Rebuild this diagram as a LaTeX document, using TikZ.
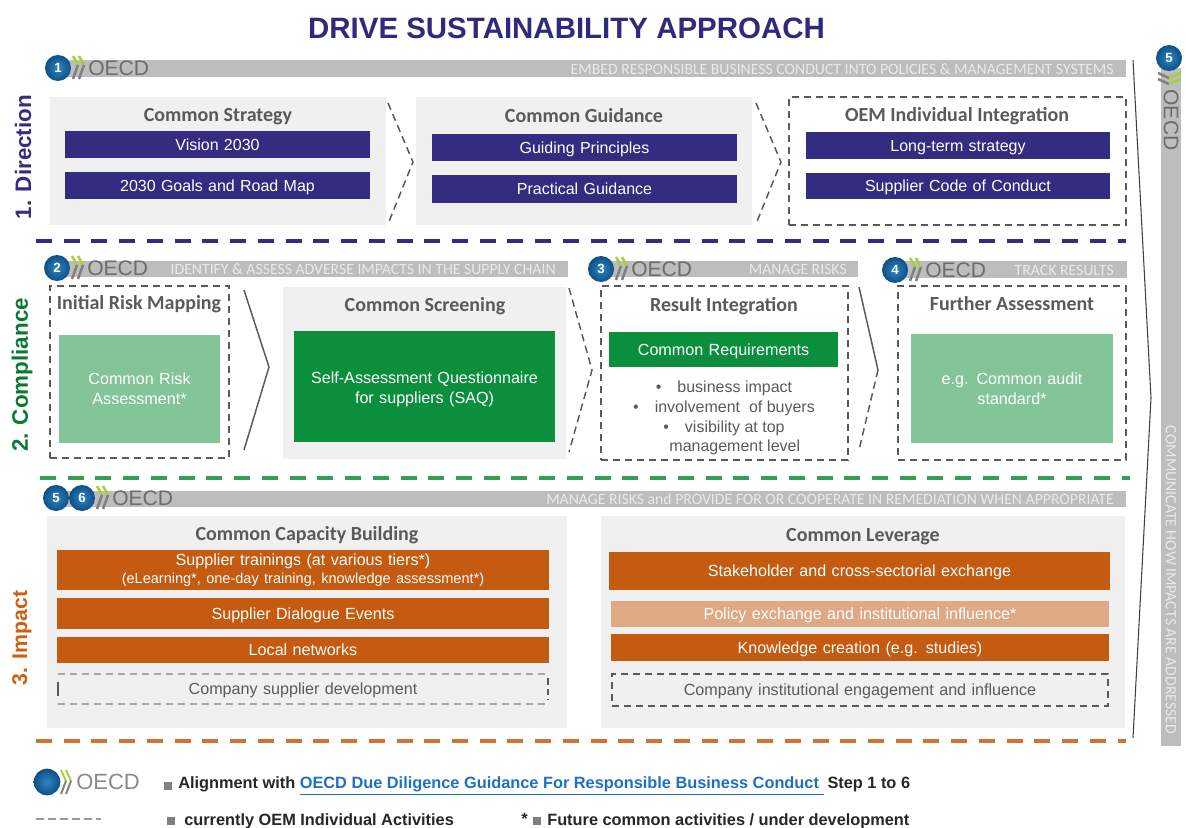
\documentclass[tikz,border=0pt]{standalone}
\usepackage{fontspec}
\setmainfont{Liberation Sans}
\newfontfamily\headfont{Carlito}
\definecolor{navy}{HTML}{332C80}
\definecolor{titleblue}{HTML}{2F2A7E}
\definecolor{dgreen}{HTML}{0B8F3C}
\definecolor{lgreen}{HTML}{83C598}
\definecolor{orng}{HTML}{C55A11}
\definecolor{lorng}{HTML}{DFA985}
\definecolor{panel}{HTML}{F0F0F0}
\definecolor{barg}{HTML}{BDBDBD}
\definecolor{ltxt}{HTML}{EAEAEA}
\definecolor{dgray}{HTML}{595959}
\definecolor{txtg}{HTML}{5A5A5A}
\definecolor{oecdg}{HTML}{6C6C6C}
\definecolor{linkb}{HTML}{1F6FC4}
\definecolor{chev}{HTML}{A9CF3A}
\definecolor{globein}{HTML}{2E86C1}
\definecolor{globeout}{HTML}{0F4F86}
\tikzset{
  panelbox/.style={fill=panel,draw=none},
  barbox/.style={fill=barg,draw=none},
  oneline/.style={text height=9.6pt,text depth=1pt},
  navybox/.style={fill=navy,text=white,font=\fontsize{12pt}{13pt}\selectfont,draw=none,oneline},
  greenbox/.style={fill=dgreen,text=white,font=\fontsize{12.1pt}{15pt}\selectfont,draw=none},
  greenone/.style={greenbox,oneline},
  lgreenbox/.style={fill=lgreen,text=white,font=\fontsize{12.1pt}{15pt}\selectfont,draw=none},
  orangebox/.style={fill=orng,text=white,font=\fontsize{12.1pt}{13pt}\selectfont,draw=none,oneline},
  orangetwo/.style={fill=orng,text=white,font=\fontsize{12.1pt}{14pt}\selectfont,draw=none},
  lorangebox/.style={fill=lorng,text=white,font=\fontsize{12.1pt}{13pt}\selectfont,draw=none,oneline},
  dashbox/.style={draw=dgray,dash pattern=on 5.5pt off 3.5pt,line width=1pt},
  plainbox/.style={draw=none,text=txtg,font=\fontsize{12.1pt}{13pt}\selectfont,oneline},
  lightdash/.style={draw=black!35,line width=1.3pt,dash pattern=on 5.5pt off 3.5pt},
  sidedash/.style={draw=dgray,line width=1pt},
  heading/.style={font=\headfont\bfseries\fontsize{15pt}{16pt}\selectfont,text=txtg,text height=12pt,text depth=2pt},
  bartext/.style={font=\headfont\fontsize{11.8pt}{13pt}\selectfont,text=ltxt,anchor=east,inner sep=0pt},
  chevline/.style={draw=dgray,line width=1.1pt,dash pattern=on 5.5pt off 3.5pt},
  chevsolid/.style={draw=dgray,line width=1.1pt},
  rule/.style={line width=2.4pt,dash pattern=on 12pt off 8.8pt},
  rowlabel/.style={font=\bfseries\fontsize{16.8pt}{20pt}\selectfont,rotate=90},
  globe/.style={circle,minimum size=19.5pt,inner sep=0pt,inner color=globein,outer color=globeout,text=white,font=\bfseries\fontsize{10pt}{10pt}\selectfont},
  oecdtext/.style={text=oecdg,font=\fontsize{15.8pt}{18pt}\selectfont,inner sep=0pt},
  legend/.style={font=\bfseries\fontsize{12.25pt}{14pt}\selectfont,text=black!85,anchor=west,inner sep=0pt},
}
\newcommand{\rbox}[7][]{%
  \pgfmathsetmacro{\rw}{(#5-#3)*0.75}\pgfmathsetmacro{\rh}{(#6-#4)*0.75}%
  \node[#7,minimum width=\rw pt,minimum height=\rh pt,inner sep=0pt,outer sep=0pt,align=center,text width=\rw pt-4pt] (#2) at ({(#3+#5)/2},{(#4+#6)/2}) {#1};}
\newcommand{\oecdlogo}[4]{% name, x, y, number
  \draw[chev,line width=1.9pt] (#2+15,#3-12) -- (#2+20,#3-3) (#2+21,#3-12) -- (#2+26,#3-3);
  \draw[gray,line width=1.9pt] (#2+20,#3-3) -- (#2+15,#3+11) (#2+26,#3-3) -- (#2+21,#3+11);
  \node[globe] (#1g) at (#2,#3) {#4};
  \node[oecdtext,anchor=west] (#1t) at (#2+30,#3) {OECD};}
\newcommand{\sketchbox}[1]{% light top and bottom, short dark sides
  \draw[lightdash] (#1.north west) -- (#1.north east);
  \draw[lightdash] (#1.south west) -- (#1.south east);
  \draw[sidedash] ([yshift=-6pt]#1.north west) -- ([yshift=6pt]#1.south west);
  \draw[sidedash,dash pattern=on 5pt off 3pt] ([yshift=-3pt]#1.north east) -- ([yshift=3pt]#1.south east);}
\begin{document}
\begin{tikzpicture}[x=0.75pt,y=-0.75pt]
\useasboundingbox (0,0) rectangle (1186,828);
\node[font=\bfseries\fontsize{22.1pt}{24pt}\selectfont,text=titleblue] (title) at (566.5,28) {DRIVE SUSTAINABILITY APPROACH};

% grey bars
\rbox{bar1}{50}{60}{1126}{77}{barbox}
\rbox{bar2a}{50}{261}{568}{277}{barbox}
\rbox{bar2b}{600}{261}{858}{277}{barbox}
\rbox{bar2c}{890}{261}{1127}{278}{barbox}
\rbox{bar3}{50}{491}{1126}{507}{barbox}
\rbox{barv}{1161}{68}{1181}{746}{barbox}
\node[bartext] (t1) at (1114,69) {EMBED RESPONSIBLE BUSINESS CONDUCT INTO POLICIES \& MANAGEMENT SYSTEMS};
\node[bartext] (t2a) at (556,269) {IDENTIFY \& ASSESS ADVERSE IMPACTS IN THE SUPPLY CHAIN};
\node[bartext] (t2b) at (847,269) {MANAGE RISKS};
\node[bartext] (t2c) at (1114,270) {TRACK RESULTS};
\node[bartext] (t3) at (1114,499) {MANAGE RISKS and PROVIDE FOR OR COOPERATE IN REMEDIATION WHEN APPROPRIATE};
\node[font=\headfont\fontsize{11.8pt}{13pt}\selectfont,text=ltxt,rotate=-90,inner sep=0pt] (tv) at (1171,580) {COMMUNICATE HOW IMPACTS ARE ADDRESSED};

% logos
\oecdlogo{l1}{58}{68}{1}
\oecdlogo{l2}{57}{268}{2}
\oecdlogo{l3}{601}{269}{3}
\oecdlogo{l4}{895}{270}{4}
\node[globe] (l6g) at (56,498) {5};
\oecdlogo{l5}{82}{498}{6}
% vertical logo
\draw[gray,line width=1.9pt] (1158,73) -- (1169,78) (1158,79) -- (1169,84);
\draw[chev,line width=1.9pt] (1169,78) -- (1181,73) (1169,84) -- (1181,79);
\node[globe] (l7g) at (1169,58) {5};
\node[oecdtext,rotate=-90] (l7t) at (1171,120) {OECD};

% Row labels
\node[rowlabel,text=navy] (r1) at (23,157) {1. Direction};
\node[rowlabel,text=dgreen!85!black] (r2) at (22,375) {2. Compliance};
\node[rowlabel,text=orng!85!orange,font=\bfseries\fontsize{16pt}{20pt}\selectfont] (r3) at (22,638) {3. Impact};

% Row 1
\rbox{p1}{50}{97}{386}{225}{panelbox}
\node[heading] (h1) at (218,115) {Common Strategy};
\rbox[Vision 2030]{n1}{65}{131}{370}{158}{navybox}
\rbox[2030 Goals and Road Map]{n2}{65}{172}{370}{199}{navybox}
\draw[chevline] (388,103) -- (413,162) -- (388,224);
\rbox{p2}{416}{97}{752}{225}{panelbox}
\node[heading] (h2) at (584,116) {Common Guidance};
\rbox[Guiding Principles]{n3}{432}{134}{737}{161}{navybox}
\rbox[Practical Guidance]{n4}{432}{175}{737}{203}{navybox}
\draw[chevline] (756,103) -- (781,162) -- (756,224);
\rbox{p3}{789}{97}{1126}{225}{dashbox}
\node[heading] (h3) at (957,115) {OEM Individual Integration};
\rbox[Long-term strategy]{n5}{806}{132}{1110}{159}{navybox}
\rbox[Supplier Code of Conduct]{n6}{806}{173}{1110}{199}{navybox}
\draw[rule,navy] (36,241) -- (1126,241);

% Row 2
\rbox{p4}{50}{286}{229}{458}{dashbox}
\node[heading] (h4) at (139,303) {Initial Risk Mapping};
\rbox[Common Risk\\Assessment*]{g1}{59}{335}{220}{443}{lgreenbox}
\draw[chevsolid] (244,290) -- (269,367) -- (244,450);
\rbox{p5}{283}{287}{566}{459}{panelbox}
\node[heading] (h5) at (425,305) {Common Screening};
\rbox[\rule{0pt}{13pt}Self-Assessment Questionnaire\\for suppliers (SAQ)]{g2}{294}{331}{555}{442}{greenbox}
\draw[chevline] (569,288) -- (592,370) -- (569,452);
\rbox{p6}{601}{286}{848}{460}{dashbox}
\node[heading] (h6) at (724,305) {Result Integration};
\rbox[Common Requirements]{g3}{609}{332}{838}{367}{greenone}
\node[align=center,text=txtg,font=\fontsize{12pt}{14.9pt}\selectfont,inner sep=0pt] (g3t) at (724,418) {\textbullet\hspace{1em}business impact\\\textbullet\hspace{1em}involvement\ \ of buyers\\\textbullet\hspace{1em}visibility at top\\\phantom{\textbullet\hspace{1em}}management level};
\draw[chevsolid] (859,287) -- (878,370);
\draw[chevline] (878,370) -- (859,450);
\rbox{p7}{898}{286}{1126}{460}{dashbox}
\node[heading] (h7) at (1012,304) {Further Assessment};
\rbox[e.g. Common audit\\standard*]{g4}{911}{334}{1113}{443}{lgreenbox}
\draw[rule,dgreen!85!white] (40,478) -- (1130,478);

% Row 3
\rbox{p8}{47}{516}{567}{728}{panelbox}
\node[heading] (h8) at (307,534) {Common Capacity Building};
\rbox[{Supplier trainings (at various tiers*)\\{\fontsize{10.9pt}{14pt}\selectfont(eLearning*, one-day training, knowledge assessment*)}}]{o1}{57}{550}{549}{590}{orangetwo}
\rbox[Supplier Dialogue Events]{o2}{57}{598}{549}{629}{orangebox}
\rbox[Local networks]{o3}{57}{637}{549}{663}{orangebox}
\rbox[Company supplier development]{o4}{58}{674}{548}{704}{plainbox}
\sketchbox{o4}
\rbox{p9}{601}{516}{1125}{728}{panelbox}
\node[heading] (h9) at (863,535) {Common Leverage};
\rbox[Stakeholder and cross-sectorial exchange]{o5}{609}{552}{1110}{590}{orangebox}
\rbox[Policy exchange and institutional influence*]{o6}{611}{601}{1109}{627}{lorangebox}
\rbox[Knowledge creation (e.g. studies)]{o7}{611}{634}{1109}{661}{orangebox}
\rbox[Company institutional engagement and influence]{o8}{612}{674}{1108}{706}{dashbox,text=txtg,font=\fontsize{12.1pt}{13pt}\selectfont,oneline}
\draw[rule,orng!85!white] (36,741) -- (1126,741);

% side bracket
\draw[black!75,line width=0.8pt] (1133,60) -- (1151,398) -- (1133,738);

% Legend
\draw[chev,line width=1.5pt] (61,770) -- (66,781) (66,770) -- (71,781);
\draw[gray,line width=1.5pt] (66,781) -- (61,794) (71,781) -- (66,794);
\node[globe,minimum size=20pt] (lg) at (47,782) {};
\node[text=oecdg!80!white,font=\fontsize{16.5pt}{18pt}\selectfont,anchor=west,inner sep=0pt] (lt) at (76,782) {OECD};
\fill[gray] (164,782) rectangle (172,790);
\node[legend] (a1) at (178,786) {Alignment with \textcolor{linkb}{\underline{OECD Due Diligence Guidance For Responsible Business Conduct }}\hspace{3pt}Step 1 to 6};
\draw[gray!80,line width=1.5pt,dash pattern=on 6pt off 3pt] (36,819) -- (101,819);
\fill[gray] (167,817) rectangle (175,825);
\node[legend] (a2) at (184,821) {currently OEM Individual Activities};
\node[legend] (a3) at (521,819) {*};
\fill[gray] (533,817) rectangle (541,825);
\node[legend] (a4) at (547,821) {Future common activities / under development};
\end{tikzpicture}
\end{document}
